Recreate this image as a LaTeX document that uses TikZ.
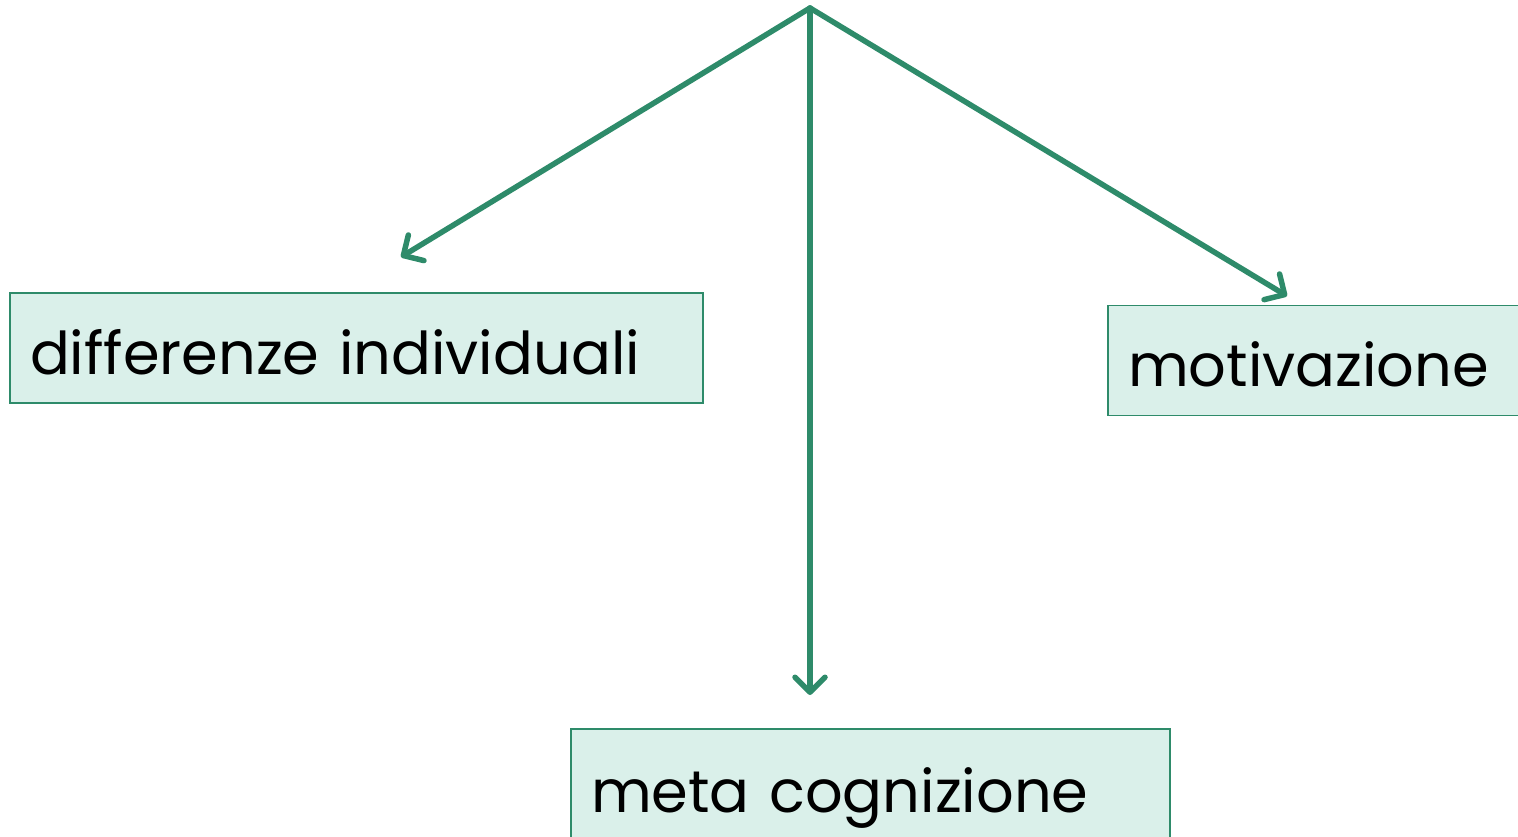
\documentclass[tikz,border=0pt]{standalone}
\usepackage{fontspec}
\setmainfont{Poppins}
\usetikzlibrary{arrows.meta,shapes}
\definecolor{boxgreen}{RGB}{46,139,106}
\definecolor{boxfill}{RGB}{218,240,234}
\tikzstyle{topic}=[draw=boxgreen,line width=1.5pt,fill=boxfill,inner xsep=20pt,align=left,font=\fontsize{59}{62}\selectfont,text height=52pt,text depth=0pt,minimum height=110pt]
\tikzstyle{link}=[draw=boxgreen,line width=5.5pt,line cap=round,-{Straight Barb[length=15pt,width=30pt,round]}]

\begin{document}
\begin{tikzpicture}[x=1pt,y=-1pt]
    \useasboundingbox (0,0) rectangle (1518,836);
    % The three boxes
    \node[topic,text width=653pt] (diff) at (356.5,348) {differenze individuali};
    \node[topic,text width=374pt] (moti) at (1315,360.5) {motivazione};
    \node[topic,text width=559pt,minimum height=114pt] (meta) at (870.5,786) {meta cognizione};

    % Start point and free ends of the arrows
    \coordinate (root) at (810,8);
    \foreach \x/\y/\name in {401/257/toDiff, 810/695/toMeta, 1287/296/toMoti}
        \coordinate (\name) at (\x,\y);

    % Arrows from the root
    \foreach \dest in {toDiff,toMeta,toMoti}
        \path[link] (root) -- (\dest);
\end{tikzpicture}
\end{document}
